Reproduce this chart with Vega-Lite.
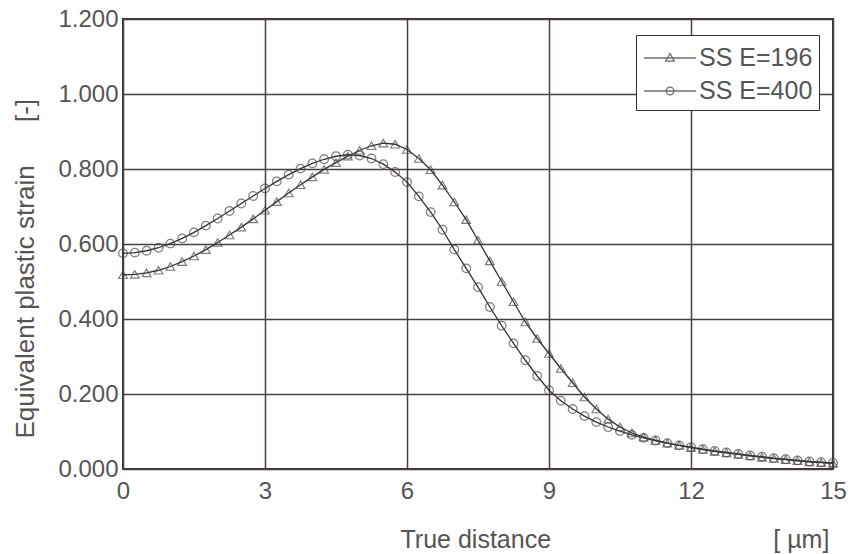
{
  "$schema": "https://vega.github.io/schema/vega-lite/v6.json",
  "width": 710,
  "height": 450,
  "autosize": {"type": "none"},
  "padding": {"left": 123, "top": 19, "right": 17, "bottom": 85},
  "background": "white",
  "config": {
    "font": "Liberation Sans",
    "view": {"stroke": "#3a3236", "strokeWidth": 2},
    "axis": {
      "labelFont": "Liberation Sans",
      "titleFont": "Liberation Sans",
      "labelColor": "#555555",
      "titleColor": "#555555",
      "labelFontSize": 24,
      "titleFontWeight": "normal",
      "ticks": false,
      "domain": false,
      "grid": true,
      "gridColor": "#4a3f45",
      "gridWidth": 1.5,
      "gridOpacity": 1,
      "labelFlush": false,
      "labelOverlap": false
    },
    "legend": {
      "labelFont": "Liberation Sans",
      "labelFontSize": 25,
      "labelColor": "#555555"
    }
  },
  "datasets": {
    "strain": [
      {"series": "SS E=196", "x": 0.0, "y": 0.518},
      {"series": "SS E=196", "x": 0.25, "y": 0.519},
      {"series": "SS E=196", "x": 0.5, "y": 0.523},
      {"series": "SS E=196", "x": 0.75, "y": 0.530},
      {"series": "SS E=196", "x": 1.0, "y": 0.540},
      {"series": "SS E=196", "x": 1.25, "y": 0.553},
      {"series": "SS E=196", "x": 1.5, "y": 0.568},
      {"series": "SS E=196", "x": 1.75, "y": 0.585},
      {"series": "SS E=196", "x": 2.0, "y": 0.604},
      {"series": "SS E=196", "x": 2.25, "y": 0.624},
      {"series": "SS E=196", "x": 2.5, "y": 0.645},
      {"series": "SS E=196", "x": 2.75, "y": 0.667},
      {"series": "SS E=196", "x": 3.0, "y": 0.690},
      {"series": "SS E=196", "x": 3.25, "y": 0.713},
      {"series": "SS E=196", "x": 3.5, "y": 0.736},
      {"series": "SS E=196", "x": 3.75, "y": 0.758},
      {"series": "SS E=196", "x": 4.0, "y": 0.779},
      {"series": "SS E=196", "x": 4.25, "y": 0.799},
      {"series": "SS E=196", "x": 4.5, "y": 0.817},
      {"series": "SS E=196", "x": 4.75, "y": 0.834},
      {"series": "SS E=196", "x": 5.0, "y": 0.850},
      {"series": "SS E=196", "x": 5.25, "y": 0.862},
      {"series": "SS E=196", "x": 5.5, "y": 0.869},
      {"series": "SS E=196", "x": 5.75, "y": 0.866},
      {"series": "SS E=196", "x": 6.0, "y": 0.852},
      {"series": "SS E=196", "x": 6.25, "y": 0.828},
      {"series": "SS E=196", "x": 6.5, "y": 0.798},
      {"series": "SS E=196", "x": 6.75, "y": 0.757},
      {"series": "SS E=196", "x": 7.0, "y": 0.712},
      {"series": "SS E=196", "x": 7.25, "y": 0.665},
      {"series": "SS E=196", "x": 7.5, "y": 0.610},
      {"series": "SS E=196", "x": 7.75, "y": 0.555},
      {"series": "SS E=196", "x": 8.0, "y": 0.500},
      {"series": "SS E=196", "x": 8.25, "y": 0.446},
      {"series": "SS E=196", "x": 8.5, "y": 0.392},
      {"series": "SS E=196", "x": 8.75, "y": 0.348},
      {"series": "SS E=196", "x": 9.0, "y": 0.308},
      {"series": "SS E=196", "x": 9.25, "y": 0.268},
      {"series": "SS E=196", "x": 9.5, "y": 0.230},
      {"series": "SS E=196", "x": 9.75, "y": 0.192},
      {"series": "SS E=196", "x": 10.0, "y": 0.160},
      {"series": "SS E=196", "x": 10.25, "y": 0.133},
      {"series": "SS E=196", "x": 10.5, "y": 0.112},
      {"series": "SS E=196", "x": 10.75, "y": 0.096},
      {"series": "SS E=196", "x": 11.0, "y": 0.085},
      {"series": "SS E=196", "x": 11.25, "y": 0.076},
      {"series": "SS E=196", "x": 11.5, "y": 0.069},
      {"series": "SS E=196", "x": 11.75, "y": 0.063},
      {"series": "SS E=196", "x": 12.0, "y": 0.057},
      {"series": "SS E=196", "x": 12.25, "y": 0.052},
      {"series": "SS E=196", "x": 12.5, "y": 0.047},
      {"series": "SS E=196", "x": 12.75, "y": 0.043},
      {"series": "SS E=196", "x": 13.0, "y": 0.039},
      {"series": "SS E=196", "x": 13.25, "y": 0.035},
      {"series": "SS E=196", "x": 13.5, "y": 0.031},
      {"series": "SS E=196", "x": 13.75, "y": 0.028},
      {"series": "SS E=196", "x": 14.0, "y": 0.025},
      {"series": "SS E=196", "x": 14.25, "y": 0.022},
      {"series": "SS E=196", "x": 14.5, "y": 0.019},
      {"series": "SS E=196", "x": 14.75, "y": 0.017},
      {"series": "SS E=196", "x": 15.0, "y": 0.015},
      {"series": "SS E=400", "x": 0.0, "y": 0.575},
      {"series": "SS E=400", "x": 0.25, "y": 0.577},
      {"series": "SS E=400", "x": 0.5, "y": 0.582},
      {"series": "SS E=400", "x": 0.75, "y": 0.590},
      {"series": "SS E=400", "x": 1.0, "y": 0.601},
      {"series": "SS E=400", "x": 1.25, "y": 0.615},
      {"series": "SS E=400", "x": 1.5, "y": 0.631},
      {"series": "SS E=400", "x": 1.75, "y": 0.649},
      {"series": "SS E=400", "x": 2.0, "y": 0.668},
      {"series": "SS E=400", "x": 2.25, "y": 0.688},
      {"series": "SS E=400", "x": 2.5, "y": 0.708},
      {"series": "SS E=400", "x": 2.75, "y": 0.728},
      {"series": "SS E=400", "x": 3.0, "y": 0.748},
      {"series": "SS E=400", "x": 3.25, "y": 0.767},
      {"series": "SS E=400", "x": 3.5, "y": 0.785},
      {"series": "SS E=400", "x": 3.75, "y": 0.801},
      {"series": "SS E=400", "x": 4.0, "y": 0.815},
      {"series": "SS E=400", "x": 4.25, "y": 0.826},
      {"series": "SS E=400", "x": 4.5, "y": 0.834},
      {"series": "SS E=400", "x": 4.75, "y": 0.838},
      {"series": "SS E=400", "x": 5.0, "y": 0.836},
      {"series": "SS E=400", "x": 5.25, "y": 0.828},
      {"series": "SS E=400", "x": 5.5, "y": 0.813},
      {"series": "SS E=400", "x": 5.75, "y": 0.792},
      {"series": "SS E=400", "x": 6.0, "y": 0.765},
      {"series": "SS E=400", "x": 6.25, "y": 0.727},
      {"series": "SS E=400", "x": 6.5, "y": 0.685},
      {"series": "SS E=400", "x": 6.75, "y": 0.638},
      {"series": "SS E=400", "x": 7.0, "y": 0.585},
      {"series": "SS E=400", "x": 7.25, "y": 0.535},
      {"series": "SS E=400", "x": 7.5, "y": 0.485},
      {"series": "SS E=400", "x": 7.75, "y": 0.432},
      {"series": "SS E=400", "x": 8.0, "y": 0.382},
      {"series": "SS E=400", "x": 8.25, "y": 0.335},
      {"series": "SS E=400", "x": 8.5, "y": 0.290},
      {"series": "SS E=400", "x": 8.75, "y": 0.248},
      {"series": "SS E=400", "x": 9.0, "y": 0.210},
      {"series": "SS E=400", "x": 9.25, "y": 0.182},
      {"series": "SS E=400", "x": 9.5, "y": 0.160},
      {"series": "SS E=400", "x": 9.75, "y": 0.141},
      {"series": "SS E=400", "x": 10.0, "y": 0.125},
      {"series": "SS E=400", "x": 10.25, "y": 0.112},
      {"series": "SS E=400", "x": 10.5, "y": 0.101},
      {"series": "SS E=400", "x": 10.75, "y": 0.091},
      {"series": "SS E=400", "x": 11.0, "y": 0.083},
      {"series": "SS E=400", "x": 11.25, "y": 0.076},
      {"series": "SS E=400", "x": 11.5, "y": 0.069},
      {"series": "SS E=400", "x": 11.75, "y": 0.063},
      {"series": "SS E=400", "x": 12.0, "y": 0.058},
      {"series": "SS E=400", "x": 12.25, "y": 0.053},
      {"series": "SS E=400", "x": 12.5, "y": 0.048},
      {"series": "SS E=400", "x": 12.75, "y": 0.044},
      {"series": "SS E=400", "x": 13.0, "y": 0.040},
      {"series": "SS E=400", "x": 13.25, "y": 0.036},
      {"series": "SS E=400", "x": 13.5, "y": 0.033},
      {"series": "SS E=400", "x": 13.75, "y": 0.029},
      {"series": "SS E=400", "x": 14.0, "y": 0.026},
      {"series": "SS E=400", "x": 14.25, "y": 0.023},
      {"series": "SS E=400", "x": 14.5, "y": 0.020},
      {"series": "SS E=400", "x": 14.75, "y": 0.018},
      {"series": "SS E=400", "x": 15.0, "y": 0.016}
    ]
  },
  "data": {"name": "strain"},
  "encoding": {
    "x": {
      "field": "x",
      "type": "quantitative",
      "scale": {"domain": [0, 15], "nice": false, "zero": false},
      "axis": {
        "values": [0, 3, 6, 9, 12, 15],
        "format": "d",
        "labelPadding": 10,
        "title": "True distance\u00a0\u00a0\u00a0\u00a0\u00a0\u00a0\u00a0\u00a0\u00a0\u00a0\u00a0\u00a0\u00a0\u00a0\u00a0\u00a0\u00a0\u00a0\u00a0\u00a0\u00a0\u00a0\u00a0\u00a0\u00a0\u00a0\u00a0\u00a0\u00a0\u00a0\u00a0\u00a0[ µm]",
        "titleFontSize": 25,
        "titleAlign": "left",
        "titleBaseline": "alphabetic",
        "titleX": 277,
        "titleY": 78
      }
    },
    "y": {
      "field": "y",
      "type": "quantitative",
      "scale": {"domain": [0, 1.2], "nice": false},
      "axis": {
        "values": [0, 0.2, 0.4, 0.6, 0.8, 1.0, 1.2],
        "format": ".3f",
        "labelPadding": 5,
        "title": "Equivalent plastic strain\u00a0\u00a0\u00a0\u00a0\u00a0\u00a0[-]",
        "titleFontSize": 26,
        "titleAngle": 270,
        "titleAlign": "left",
        "titleBaseline": "alphabetic",
        "titleX": -90,
        "titleY": 419
      }
    }
  },
  "layer": [
    {
      "mark": {"type": "line", "color": "#353035", "strokeWidth": 1.3},
      "encoding": {"detail": {"field": "series"}}
    },
    {
      "mark": {"type": "point", "filled": false, "color": "#4a4448", "strokeWidth": 1.2, "size": 75},
      "encoding": {
        "shape": {
          "field": "series",
          "type": "nominal",
          "scale": {"domain": ["SS E=196", "SS E=400"], "range": ["triangle-up", "circle"]},
          "legend": null
        }
      }
    },
    {
      "transform": [{"filter": "false"}],
      "mark": {"type": "point", "filled": false, "color": "#353035", "strokeWidth": 1.3},
      "encoding": {
        "shape": {
          "field": "series",
          "type": "nominal",
          "scale": {
            "domain": ["SS E=196", "SS E=400"],
            "range": [
              "M-0.94,0H2.31M0.69,-0.28L0.96,0.2L0.42,0.2Z",
              "M-0.94,0H2.31M0.93,0A0.24,0.24 0 1,1 0.45,0A0.24,0.24 0 1,1 0.93,0Z"
            ]
          },
          "legend": {
            "title": null,
            "orient": "none",
            "legendX": 513,
            "legendY": 16,
            "fillColor": "white",
            "strokeColor": "#353035",
            "padding": 6,
            "symbolSize": 1024,
            "symbolStrokeColor": "#353035",
            "symbolFillColor": "#9a9a9a",
            "symbolStrokeWidth": 1.3,
            "labelOffset": 23,
            "rowPadding": 3
          }
        }
      }
    }
  ],
  "resolve": {"scale": {"shape": "independent"}}
}
